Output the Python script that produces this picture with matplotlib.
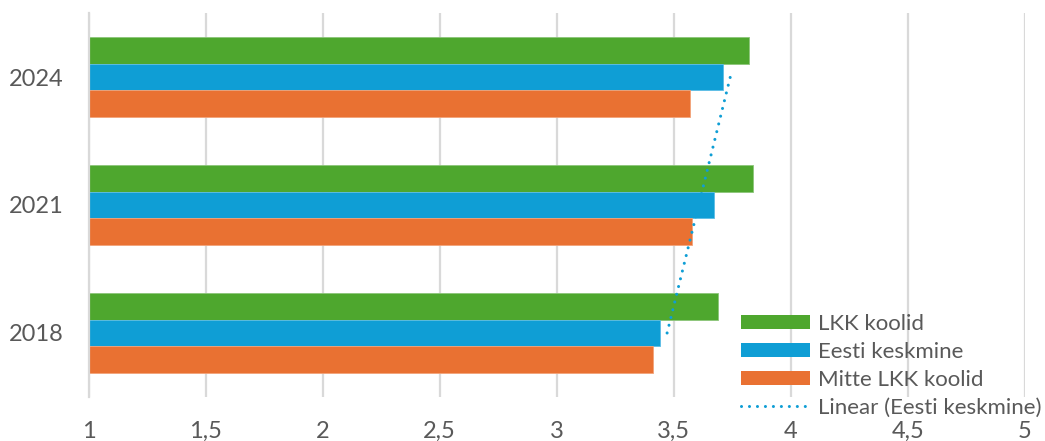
import matplotlib
matplotlib.use("Agg")
import matplotlib.pyplot as plt
import numpy as np
from matplotlib.patches import Patch
from matplotlib.lines import Line2D

categories = ["2018", "2021", "2024"]
lkk = [3.69, 3.84, 3.82]
eesti = [3.44, 3.67, 3.71]
mitte = [3.41, 3.58, 3.57]
xticks = [1, 1.5, 2, 2.5, 3, 3.5, 4, 4.5, 5]
xtick_labels = ["1", "1,5", "2", "2,5", "3", "3,5", "4", "4,5", "5"]

c_green = "#4ea72e"
c_blue = "#0f9ed5"
c_orange = "#e97132"
txt = "#595959"
grid = "#d9d9d9"

plt.rcParams['font.family'] = ['Lato', 'DejaVu Sans']

fig = plt.figure(figsize=(10.45, 4.41), dpi=100)
ax = fig.add_axes([0.0849, 0.0998, 0.8957, 0.8707])

y = np.arange(len(categories))
h = 0.2065
base = 1.0
ax.barh(y + h, np.array(lkk) - base, height=h, left=base, color=c_green,
        edgecolor="#8cc57a", linewidth=0.6, label="LKK koolid", zorder=2)
ax.barh(y, np.array(eesti) - base, height=h, left=base, color=c_blue,
        edgecolor="#5bbde6", linewidth=0.6, label="Eesti keskmine", zorder=2)
ax.barh(y - h, np.array(mitte) - base, height=h, left=base, color=c_orange,
        edgecolor="#f2a37a", linewidth=0.6, label="Mitte LKK koolid", zorder=2)

# linear trendline for Eesti keskmine
xs = np.arange(1, len(eesti) + 1)
k, b0 = np.polyfit(xs, eesti, 1)
tv = k * xs + b0
ax.plot(tv, y, color=c_blue, linewidth=2.2, dashes=(0.01, 2.6),
        dash_capstyle='round', zorder=3)

ax.set_xlim(1, 5)
ax.set_ylim(-0.5, len(categories) - 0.5)
ax.set_xticks(xticks)
ax.set_xticklabels(xtick_labels)
ax.set_yticks(y)
ax.set_yticklabels(categories)
ax.tick_params(axis='both', length=0, labelsize=17, labelcolor=txt)
ax.tick_params(axis='x', pad=17)
ax.tick_params(axis='y', pad=18)
for s in ["top", "right", "bottom"]:
    ax.spines[s].set_visible(False)
ax.spines["left"].set_color(grid)
ax.spines["left"].set_linewidth(1.6)
ax.grid(axis='x', color=grid, linewidth=1.6, zorder=0)
ax.set_axisbelow(True)

handles = [Patch(facecolor=c_green, edgecolor='none', label="LKK koolid"),
           Patch(facecolor=c_blue, edgecolor='none', label="Eesti keskmine"),
           Patch(facecolor=c_orange, edgecolor='none', label="Mitte LKK koolid"),
           Line2D([0], [0], color=c_blue, linewidth=2.2, dashes=(0.01, 2.6),
                  dash_capstyle='round', label="Linear (Eesti keskmine)")]
leg = ax.legend(handles=handles, loc='lower right', bbox_to_anchor=(1.0275, -0.0766),
                frameon=False, fontsize=16, labelcolor=txt, handlelength=3.1,
                handleheight=0.6, handletextpad=0.35, labelspacing=0.36,
                borderaxespad=0)

fig.savefig("out.png", dpi=100)
